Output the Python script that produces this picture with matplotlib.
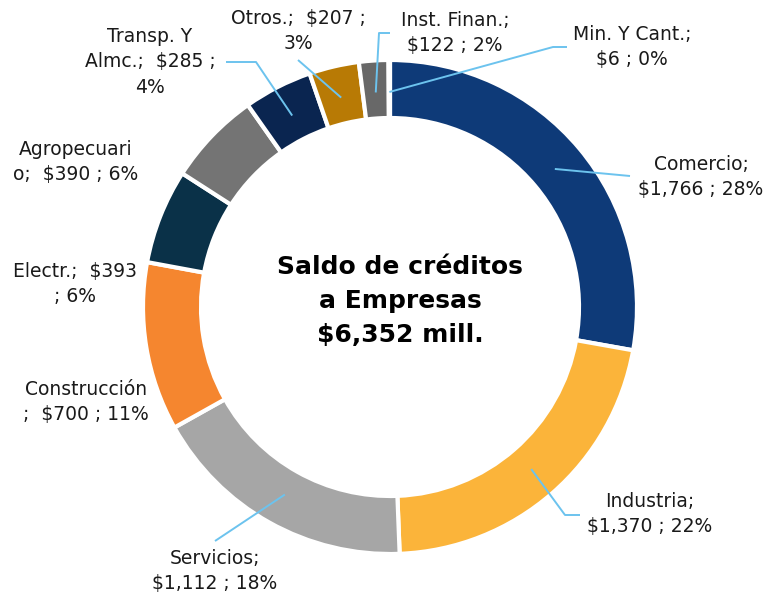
import matplotlib
matplotlib.use("Agg")
import matplotlib.pyplot as plt
import numpy as np

categories = ["Comercio", "Industria", "Servicios", "Construcción", "Electr.",
              "Agropecuario", "Transp. Y Almc.", "Otros.", "Inst. Finan.", "Min. Y Cant."]
values = [1766, 1370, 1112, 700, 393, 390, 285, 207, 122, 6]
percents = [28, 22, 18, 11, 6, 6, 4, 3, 2, 0]
label_texts = [
    "Comercio;\n$1,766 ; 28%",
    "Industria;\n$1,370 ; 22%",
    "Servicios;\n$1,112 ; 18%",
    "Construcción\n;  $700 ; 11%",
    "Electr.;  $393\n; 6%",
    "Agropecuari\no;  $390 ; 6%",
    "Transp. Y\nAlmc.;  $285 ;\n4%",
    "Otros.;  $207 ;\n3%",
    "Inst. Finan.;\n$122 ; 2%",
    "Min. Y Cant.;\n$6 ; 0%",
]
title_text = "Saldo de créditos\na Empresas\n$6,352 mill."

colors = ["#0E3A78", "#FBB43A", "#A6A6A6", "#F5862F", "#0A3148",
          "#747474", "#0A2550", "#B87A05", "#686868", "#4A6A9A"]

W, H = 778, 599
fig = plt.figure(figsize=(W / 100, H / 100), dpi=100)
ax = fig.add_axes([0, 0, 1, 1])

cx, cy = 390, H - 307
R = 247
ring = 58

wedges, _ = ax.pie(values, colors=colors, startangle=90, counterclock=False,
                   radius=R, center=(cx, cy), frame=True,
                   wedgeprops=dict(width=ring, edgecolor="white", linewidth=3))
ax.set_xlim(0, W)
ax.set_ylim(0, H)
ax.set_aspect("equal")
ax.axis("off")

font = "DejaVu Sans"
fs = 13.5

# label placements (image pixel coords): text center, leader path end points
placements = [
    dict(t=(701, 177), line=[(630, 176)]),
    dict(t=(650, 514), line=[(565, 515), (580, 515)]),
    dict(t=(215, 571), line=[(215, 541)]),
    dict(t=(86, 402), line=None),
    dict(t=(75, 284), line=None),
    dict(t=(76, 162), line=None),
    dict(t=(150, 62), line=[(256, 62), (226, 62)]),
    dict(t=(298, 31), line=[(298, 60)]),
    dict(t=(455, 33), line=[(379, 33), (390, 33)]),
    dict(t=(632, 47), line=[(553, 47), (567, 47)]),
]

total = sum(values)
cum = 0
line_color = "#6CC3EE"
for v, txt, pl in zip(values, label_texts, placements):
    mid = (cum + v / 2) / total
    cum += v
    ang = np.deg2rad(90 - 360 * mid)
    r_anchor = 215
    ax_, ay_ = cx + r_anchor * np.cos(ang), cy + r_anchor * np.sin(ang)
    tx, ty = pl["t"]
    ax.text(tx, H - ty, txt, ha="center", va="center", fontsize=fs,
            family=font, color="#1a1a1a", linespacing=1.45)
    if pl["line"]:
        xs = [ax_] + [p[0] for p in pl["line"]]
        ys = [ay_] + [H - p[1] for p in pl["line"]]
        ax.plot(xs, ys, color=line_color, lw=1.4, solid_capstyle="butt", zorder=5)

ax.text(400, H - 301, title_text, ha="center", va="center", fontsize=18,
        fontweight="bold", family=font, color="#000000", linespacing=1.5)

fig.savefig("out.png", dpi=100)
